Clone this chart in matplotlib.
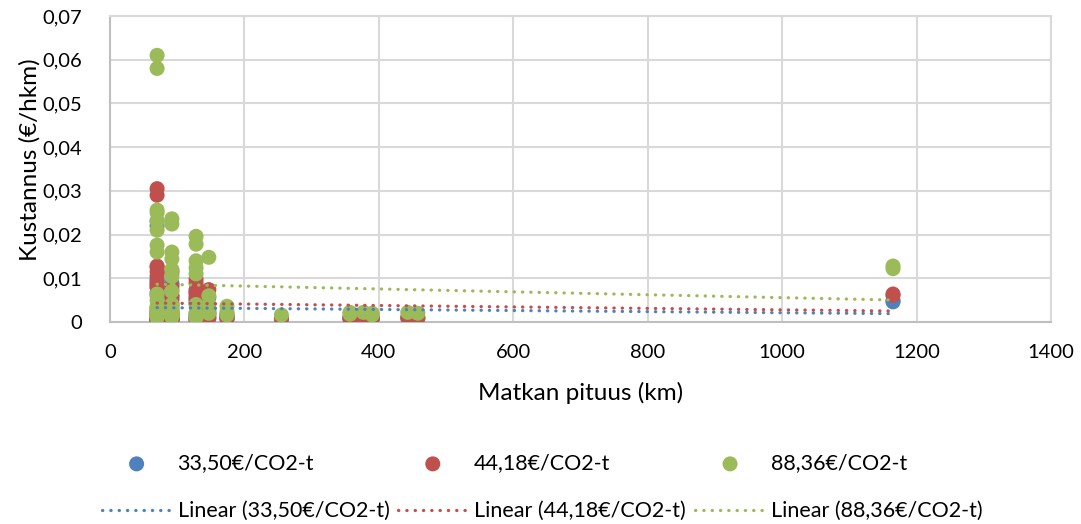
import numpy as np
import matplotlib.pyplot as plt

# Matkan pituus (km) ja kustannus (€/hkm) kolmella CO2-hinnalla
pituus = [70] * 23 + [92] * 21 + [128] * 8 + [147] * 4 + [174] * 3 + [255] + [357] * 2 + [377] + [390] * 2 + [443] + [458] + [1165] * 2

kust_3350 = [0.0231, 0.022, 0.0097, 0.0095, 0.0087, 0.008, 0.0067, 0.0061, 0.0024, 0.0019, 0.0014, 0.0008,
             0.0004, 0.0011, 0.0009, 0.0009, 0.0008, 0.0008, 0.0007, 0.0006, 0.0006, 0.0005, 0.0005,
             0.0089, 0.0085, 0.0061, 0.0055, 0.0045, 0.0039, 0.0027, 0.0015, 0.0008, 0.0011, 0.001,
             0.0009, 0.0008, 0.0008, 0.0008, 0.0007, 0.0006, 0.0006, 0.0005, 0.0005, 0.0005,
             0.0074, 0.0067, 0.0053, 0.0047, 0.0042, 0.0015, 0.0008, 0.0004,
             0.0056, 0.0023, 0.0015, 0.0008,
             0.0014, 0.0009, 0.0006,
             0.0006,
             0.0008, 0.0007,
             0.0008,
             0.0008, 0.0006,
             0.0008,
             0.0008,
             0.0049, 0.0046]

kust_4418 = [0.0305, 0.029, 0.0128, 0.0125, 0.0115, 0.0105, 0.0088, 0.008, 0.0032, 0.0025, 0.0018, 0.001,
             0.0005, 0.0015, 0.0012, 0.0012, 0.001, 0.001, 0.0009, 0.0008, 0.0008, 0.0007, 0.0006,
             0.0118, 0.0112, 0.008, 0.0072, 0.006, 0.0052, 0.0035, 0.002, 0.001, 0.0015, 0.0013,
             0.0012, 0.0011, 0.001, 0.001, 0.0009, 0.0008, 0.0008, 0.0007, 0.0006, 0.0006,
             0.0098, 0.0089, 0.007, 0.0062, 0.0055, 0.002, 0.001, 0.0005,
             0.0074, 0.003, 0.002, 0.001,
             0.0018, 0.0012, 0.0008,
             0.0008,
             0.0011, 0.0009,
             0.0011,
             0.001, 0.0008,
             0.0011,
             0.001,
             0.0064, 0.0061]

kust_8836 = [0.061, 0.058, 0.0256, 0.025, 0.023, 0.021, 0.0176, 0.016, 0.0064, 0.005, 0.0036, 0.002,
             0.001, 0.003, 0.0024, 0.0024, 0.002, 0.002, 0.0018, 0.0016, 0.0016, 0.0014, 0.0012,
             0.0236, 0.0224, 0.016, 0.0144, 0.012, 0.0104, 0.007, 0.004, 0.002, 0.003, 0.0026,
             0.0024, 0.0022, 0.002, 0.002, 0.0018, 0.0016, 0.0016, 0.0014, 0.0012, 0.0012,
             0.0196, 0.0178, 0.014, 0.0124, 0.011, 0.004, 0.002, 0.001,
             0.0148, 0.006, 0.004, 0.002,
             0.0036, 0.0024, 0.0016,
             0.0016,
             0.0022, 0.0018,
             0.0022,
             0.002, 0.0016,
             0.0022,
             0.002,
             0.0128, 0.0122]

sarjat = ["33,50€/CO2-t", "44,18€/CO2-t", "88,36€/CO2-t"]
varit = ["#4F81BD", "#C0504D", "#9BBB59"]

plt.rcParams['font.family'] = ['Lato', 'DejaVu Sans']

fig = plt.figure(figsize=(10.81, 5.24), dpi=100)
ax = fig.add_axes([0.1018, 0.3855, 0.8704, 0.584])

x = np.array(pituus, dtype=float)
pisteet = []
viivat = []
for y, nimi, vari in zip([kust_3350, kust_4418, kust_8836], sarjat, varit):
    sc = ax.scatter(x, np.array(y), s=117, color=vari, edgecolors='none', zorder=3, label=nimi)
    pisteet.append(sc)

# lineaariset trendit
for y, nimi, vari in zip([kust_3350, kust_4418, kust_8836], sarjat, varit):
    k, b = np.polyfit(x, np.array(y), 1)
    xs = np.array([x.min(), x.max()])
    ln, = ax.plot(xs, k * xs + b, color=vari, lw=2.3, linestyle=(0, (0.1, 2.5)),
                  dash_capstyle='round', zorder=4, label="Linear (" + nimi + ")")
    viivat.append(ln)

ax.set_xlim(0, 1400)
ax.set_ylim(0, 0.07)
ax.set_xticks(range(0, 1401, 200))
ax.set_yticks(np.arange(0, 0.0701, 0.01))
ax.set_yticklabels(["0"] + ["0,0%d" % i for i in range(1, 8)])
ax.grid(True, color="#D9D9D9", lw=1.5)
ax.set_axisbelow(True)
for sp in ax.spines.values():
    sp.set_color("#D9D9D9")
    sp.set_linewidth(1.5)
ax.spines['left'].set_color("#BFBFBF")
ax.spines['bottom'].set_color("#BFBFBF")
ax.tick_params(axis='both', length=0, labelsize=14.5, colors='black')
ax.tick_params(axis='y', pad=20)
ax.tick_params(axis='x', pad=16)

ax.set_xlabel("Matkan pituus (km)", fontsize=17.5)
ax.xaxis.set_label_coords(0.5, -0.195)
ax.set_ylabel("Kustannus (€/hkm)", fontsize=17.5, va='center')
ax.yaxis.set_label_coords(-0.085, 0.53)

# selite: kolme saraketta, pisteet ylhäällä ja trendit alla
for i, xpos in enumerate([0.094, 0.368, 0.643]):
    fig.legend(handles=[pisteet[i], viivat[i]], loc='upper left', bbox_to_anchor=(xpos, 0.1345),
               frameon=False, fontsize=15.5, handlelength=3.25, handletextpad=0.28,
               labelspacing=1.28, borderpad=0, borderaxespad=0, scatterpoints=1)

fig.savefig("out.png", dpi=100)
